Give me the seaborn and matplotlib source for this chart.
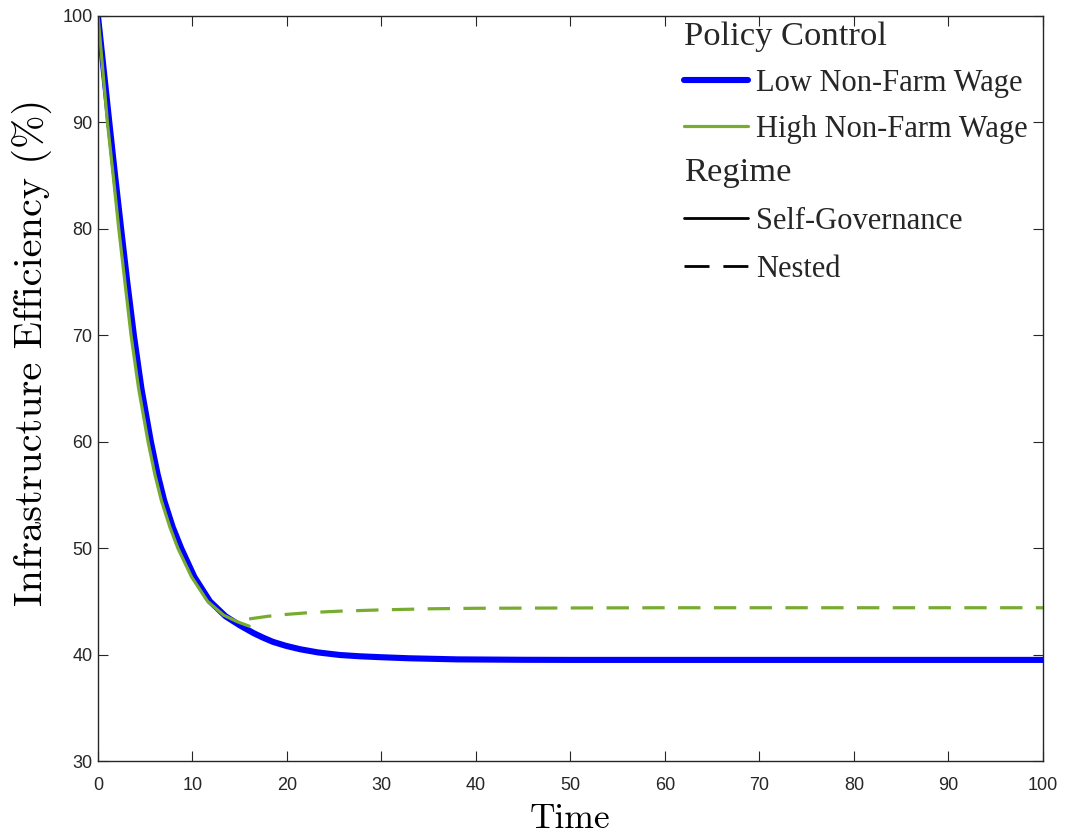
import numpy as np
import pandas as pd
import matplotlib
matplotlib.use("Agg")
import matplotlib.pyplot as plt
import seaborn as sns
from matplotlib.lines import Line2D

# ---- data ----
low_sg_time = [0, 0.6, 1.2, 1.8, 2.45, 3.1, 3.8, 4.6, 5.6, 6.3, 7.0, 7.9, 8.8,
               10.2, 11.85, 13.5, 15.0, 16.5, 17.5, 18.5, 19.9, 21.4, 23.3, 25.6,
               27.7, 30, 33, 38, 45, 50, 70, 100]
low_sg_eff = [100, 95, 90, 85.1, 80, 75, 70, 65, 60, 57, 54.5, 52.0, 50,
              47.3, 45, 43.6, 42.75, 42.0, 41.58, 41.2, 40.82, 40.5, 40.2, 39.96,
              39.84, 39.75, 39.65, 39.55, 39.51, 39.5, 39.5, 39.5]

high_sg_time = [0, 0.5, 1.0, 1.6, 2.2, 2.85, 3.5, 4.3, 5.3, 6.0, 6.7, 7.6, 8.45,
                9.9, 11.6, 13.3, 14.7, 16.0]
high_sg_eff = [100, 95, 90, 85.1, 80, 75, 70, 65, 60, 57, 54.5, 52.0, 50,
               47.3, 45, 43.7, 43.1, 42.67]

high_nested_time = [16, 18, 20, 22.5, 25.6, 30, 35, 40, 50, 60, 80, 100]
high_nested_eff = [43.35, 43.6, 43.78, 43.95, 44.08, 44.2, 44.3, 44.35, 44.38, 44.4, 44.4, 44.4]

policy_levels = ["Low Non-Farm Wage", "High Non-Farm Wage"]
regime_levels = ["Self-Governance", "Nested"]
x_ticks = list(range(0, 101, 10))
y_ticks = list(range(30, 101, 10))

frames = [
    pd.DataFrame({"Time": low_sg_time, "Eff": low_sg_eff,
                  "Policy": policy_levels[0], "Regime": regime_levels[0]}),
    pd.DataFrame({"Time": high_sg_time, "Eff": high_sg_eff,
                  "Policy": policy_levels[1], "Regime": regime_levels[0]}),
    pd.DataFrame({"Time": high_nested_time, "Eff": high_nested_eff,
                  "Policy": policy_levels[1], "Regime": regime_levels[1]}),
]
df = pd.concat(frames, ignore_index=True)

# ---- style ----
sns.set_style("ticks")
plt.rcParams["font.family"] = ["Liberation Sans", "DejaVu Sans"]
axis_col = "#262626"

BLUE = "#0000FF"
GREEN = "#77AC30"
colors = {policy_levels[0]: BLUE, policy_levels[1]: GREEN}
widths = {policy_levels[0]: 4.4, policy_levels[1]: 2.3}
dash_map = {regime_levels[0]: "", regime_levels[1]: (7.0, 4.2)}

fig = plt.figure(figsize=(10.65, 8.36), dpi=100)
ax = fig.add_axes([0.092, 0.0897, 0.9793 - 0.092, 0.9809 - 0.0897])

# draw in order: blue first, then green on top
for pol, reg in [(policy_levels[0], regime_levels[0]),
                 (policy_levels[1], regime_levels[0]),
                 (policy_levels[1], regime_levels[1])]:
    sub = df[(df["Policy"] == pol) & (df["Regime"] == reg)]
    sns.lineplot(data=sub, x="Time", y="Eff", color=colors[pol],
                 linewidth=widths[pol], estimator=None, sort=False,
                 legend=False, ax=ax)
    line = ax.lines[-1]
    if dash_map[reg]:
        line.set_dashes(dash_map[reg])

ax.set_xlim(0, 100)
ax.set_ylim(30, 100)
ax.set_xticks(x_ticks)
ax.set_yticks(y_ticks)
ax.tick_params(direction="in", length=7, width=0.8, colors=axis_col,
               labelsize=13, top=True, right=True)
ax.tick_params(axis="x", pad=11.5)
ax.tick_params(axis="y", pad=4)
for s in ax.spines.values():
    s.set_visible(True)
    s.set_color(axis_col)
    s.set_linewidth(1.0)

ax.set_xlabel("Time", family="cmr10", fontsize=25.5, color="black", labelpad=6.5)
ax.set_ylabel("Infrastructure Efficiency (%)", family="cmr10", fontsize=29,
              color="black")
ax.yaxis.set_label_coords(-0.049, 0.549)

# ---- legend: two sections ----
serif = "Liberation Serif"
common = dict(loc="upper left", frameon=False,
              prop={"family": serif, "size": 22},
              title_fontproperties={"family": serif, "size": 24.8},
              handlelength=2.1, handletextpad=0.26,
              borderaxespad=0, borderpad=0)
h1 = [Line2D([], [], color=BLUE, lw=4.4),
      Line2D([], [], color=GREEN, lw=2.3)]
leg1 = ax.legend(h1, policy_levels, title="Policy Control",
                 bbox_to_anchor=(0.620, 0.993), labelspacing=0.56, **common)
leg1._legend_box.align = "left"
ax.add_artist(leg1)

h2 = [Line2D([], [], color="black", lw=2.0),
      Line2D([], [], color="black", lw=2.0, dashes=(9, 5))]
leg2 = ax.legend(h2, regime_levels, title="Regime",
                 bbox_to_anchor=(0.620, 0.8103), labelspacing=0.62, **common)
leg2._legend_box.align = "left"

fig.savefig("out.png", dpi=100, facecolor="white")
